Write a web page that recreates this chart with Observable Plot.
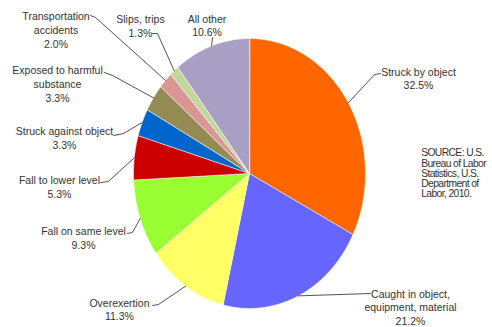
<!DOCTYPE html>
<html><head><meta charset="utf-8">
<script src="https://cdn.jsdelivr.net/npm/d3@7"></script>
<script src="https://cdn.jsdelivr.net/npm/@observablehq/plot@0.6"></script>
<style>
body{margin:0;background:#fff;}
g[aria-description="source"] text{letter-spacing:-0.6px;}
</style>
</head><body><div id="chart"></div>
<script>
const categories = ["Struck by object","Caught in object, equipment, material","Overexertion","Fall on same level","Fall to lower level","Struck against object","Exposed to harmful substance","Transportation accidents","Slips, trips","All other"];
const values = [32.5, 21.2, 11.3, 9.3, 5.3, 3.3, 3.3, 2.0, 1.3, 10.6];
const labelLines = ["Struck by object","Caught in object,\nequipment, material","Overexertion","Fall on same level","Fall to lower level","Struck against object","Exposed to harmful\nsubstance","Transportation\naccidents","Slips, trips","All other"];
const colors = ["#FF6600","#6666FF","#FFFF66","#99FF33","#CC0000","#0066CC","#948A54","#D99694","#C3D69B","#A99FC5"];
const sourceText = "SOURCE: U.S.\nBureau of Labor\nStatistics, U.S.\nDepartment of\nLabor, 2010.";

// label layout in pie-radius units (text centre, leader elbow, leader end at text)
const labelLayout = [
  {tx: 1.457, ty:-0.707, ex: 1.078, ey:-0.733, ax: 1.129, ay:-0.741},
  {tx: 1.388, ty: 0.989, ex: 1.043, ey: 0.889, ax: 1.043, ay: 0.889},
  {tx:-1.121, ty: 1.004, ex:-0.784, ey: 0.970, ax:-0.836, ay: 0.978},
  {tx:-1.431, ty: 0.474, ex:-1.009, ey: 0.437, ax:-1.052, ay: 0.444},
  {tx:-1.638, ty: 0.096, ex:-1.216, ey: 0.059, ax:-1.284, ay: 0.067},
  {tx:-1.595, ty:-0.263, ex:-1.086, ey:-0.296, ax:-1.172, ay:-0.281},
  {tx:-1.655, ty:-0.667, ex:-1.180, ey:-0.726, ax:-1.250, ay:-0.748},
  {tx:-1.668, ty:-1.067, ex:-1.328, ey:-1.156, ax:-1.371, ay:-1.170},
  {tx:-0.940, ty:-1.093, ex:-0.793, ey:-1.037, ax:-0.836, ay:-1.037},
  {tx:-0.366, ty:-1.100, ex:-0.319, ey:-1.007, ax:-0.319, ay:-1.007}
];
const sourceLayout = {tx: 1.48, ty: 0};

const arcs = d3.pie().sort(null).value(d => d)(values);

const slicePts = arcs.flatMap((a, i) => {
  const n = Math.max(2, Math.ceil((a.endAngle - a.startAngle) / 0.01));
  const pts = [{x: 0, y: 0, name: categories[i]}];
  for (let k = 0; k <= n; k++) {
    const t = a.startAngle + (a.endAngle - a.startAngle) * k / n;
    pts.push({x: Math.sin(t), y: -Math.cos(t), name: categories[i]});
  }
  return pts;
});

const leaderPts = arcs.flatMap((a, i) => {
  const m = (a.startAngle + a.endAngle) / 2;
  const L = labelLayout[i];
  return [
    {x: Math.sin(m), y: -Math.cos(m), id: i},
    {x: L.ex, y: L.ey, id: i},
    {x: L.ax, y: L.ay, id: i}
  ];
});

const labels = categories.map((c, i) => ({
  text: labelLines[i] + "\n" + values[i].toFixed(1) + "%",
  x: labelLayout[i].tx, y: labelLayout[i].ty
}));

const chart = Plot.plot({
  width: 492, height: 327, margin: 0,
  style: {fontFamily: "'Liberation Sans', Arial, sans-serif", background: "#fff"},
  x: {domain: [-1, 1], range: [133, 365], axis: null},
  y: {domain: [-1, 1], range: [38, 308], axis: null},
  color: {domain: categories, range: colors},
  marks: [
    Plot.line(slicePts, {x: "x", y: "y", z: "name", fill: "name", stroke: "#fff", strokeWidth: 0.6, curve: "linear-closed"}),
    Plot.line(leaderPts, {x: "x", y: "y", z: "id", stroke: "#404040", strokeWidth: 0.9}),
    Plot.text(labels, {x: "x", y: "y", text: "text", fontSize: 10.5, lineHeight: 1.33, lineAnchor: "middle", textAnchor: "middle", fill: "#333"}),
    Plot.text([sourceText], {x: () => sourceLayout.tx, y: () => sourceLayout.ty, text: d => d, fontSize: 10.3, lineHeight: 1.0, lineAnchor: "middle", textAnchor: "start", fill: "#333", ariaDescription: "source"})
  ]
});
document.getElementById("chart").appendChild(chart);
</script>
</body></html>
